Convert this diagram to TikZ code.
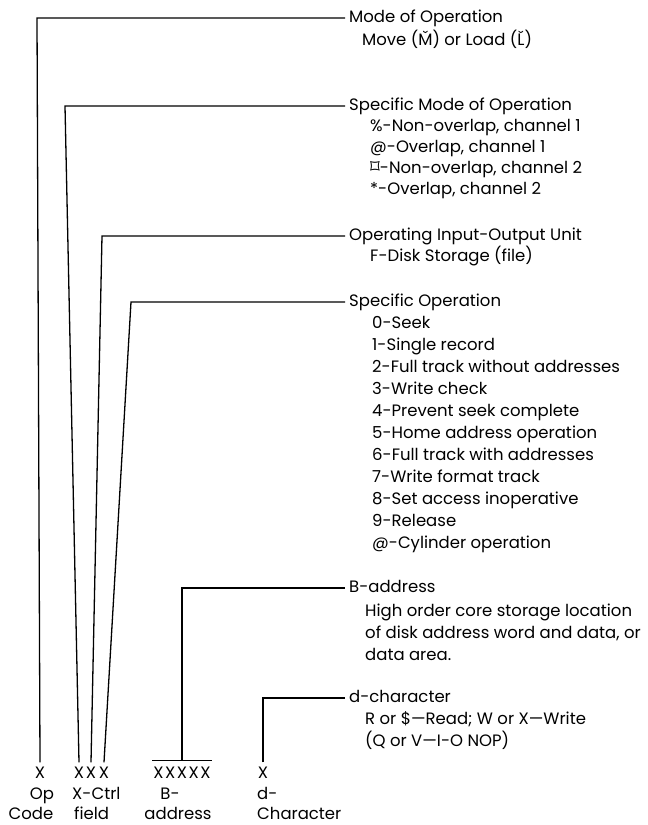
\documentclass[tikz,border=0pt]{standalone}
\usepackage{fontspec}
\setmainfont{Poppins}
\newfontfamily\symfont{DejaVu Sans}
\newcommand\chk[1]{\accent"02C7 #1}
\usetikzlibrary{positioning}

\begin{document}
\begin{tikzpicture}[x=1pt,y=-1pt]

      \tikzstyle{hdr}=[anchor=west,inner ysep=0pt,inner xsep=4pt,
        font=\fontsize{16.5}{19}\selectfont,text height=12pt,text depth=3pt]
      \tikzstyle{item}=[hdr]
      \tikzstyle{fld}=[inner xsep=0pt,inner ysep=4pt,
        font=\fontsize{16.5}{19}\selectfont,text height=12pt,text depth=3pt]
      \tikzstyle{wire}=[line width=1.3pt]

      \useasboundingbox (0,0) rectangle (648,825);

      % explanations on the right
      \node(modeHdr)[hdr] at (345,18){Mode of Operation};
      \node(modeSub)[item] at (358,41){Move (\chk{M}) or Load (\chk{L})};

      \node(smHdr)[hdr] at (345,106){Specific Mode of Operation};
      \node(sm1)[item] at (366,127){\%-Non-overlap, channel 1};
      \node(sm2)[item] at (366,148){@-Overlap, channel 1};
      \node(sm3)[item] at (366,169){{\symfont\fontsize{19}{19}\selectfont ⌑}-Non-overlap, channel 2};
      \node(sm4)[item] at (366,190){*-Overlap, channel 2};

      \node(ioHdr)[hdr] at (345,236){Operating Input-Output Unit};
      \node(ioSub)[item] at (366,257){F-Disk Storage (file)};

      \node(opHdr)[hdr] at (345,302){Specific Operation};
      \foreach \txt [count=\i] in {0-Seek, 1-Single record,
        2-Full track without addresses, 3-Write check,
        4-Prevent seek complete, 5-Home address operation,
        6-Full track with addresses, 7-Write format track,
        8-Set access inoperative, 9-Release, @-Cylinder operation}
        \node(op\i)[item] at (368,302+22*\i){\txt};

      \node(bHdr)[hdr] at (345,588){B-address};
      \node(bSub1)[item] at (361,612){High order core storage location};
      \node(bSub2)[item] at (361,634){of disk address word and data, or};
      \node(bSub3)[item] at (361,656){data area.};

      \node(dHdr)[hdr] at (345,698){d-character};
      \node(dSub1)[item] at (361,720){R or \$---Read; W or X---Write};
      \node(dSub2)[item] at (361,742){(Q or V---I-O NOP)};

      % instruction format at the bottom
      \node(xOp)[fld] at (40,774){X};
      \node(xC1)[fld] at (79,774){X};
      \node(xC2)[fld] at (91,774){X};
      \node(xC3)[fld] at (104,774){X};
      \node(xB)[fld,inner ysep=6pt,inner xsep=1pt] at (182,774)
        {X\kern1.5pt X\kern1.5pt X\kern1.5pt X\kern1.5pt X};
      \node(xD)[fld] at (263,774){X};

      \node(capOp)[fld] at (42,795){Op};
      \node(capCode)[fld] at (31,815){Code};
      \node(capCtrl)[fld,anchor=west] at (72,795){X-Ctrl};
      \node(capField)[fld,anchor=west] at (74,815){field};
      \node(capB)[fld] at (170,795){B-};
      \node(capAddr)[fld] at (178,815){address};
      \node(capD)[fld,anchor=west] at (257,795){d-};
      \node(capChar)[fld,anchor=west] at (257,815){Character};

      \coordinate(k1) at (37,18);
      \coordinate(k2) at (65,106);
      \coordinate(k3) at (102,236);
      \coordinate(k4) at (131,302);

      \draw [wire] (xOp.north)--(k1)--(modeHdr.west);
      \draw [wire] (xC1.north)--(k2)--(smHdr.west);
      \draw [wire] (xC2.north)--(k3)--(ioHdr.west);
      \draw [wire] (xC3.north)--(k4)--(opHdr.west);

      \draw [wire] (xB.north west)--(xB.north east);
      \draw [wire] (xB.north)|-(bHdr.west);
      \draw [wire] (xD.north)|-(dHdr.west);

    \end{tikzpicture}
\end{document}
